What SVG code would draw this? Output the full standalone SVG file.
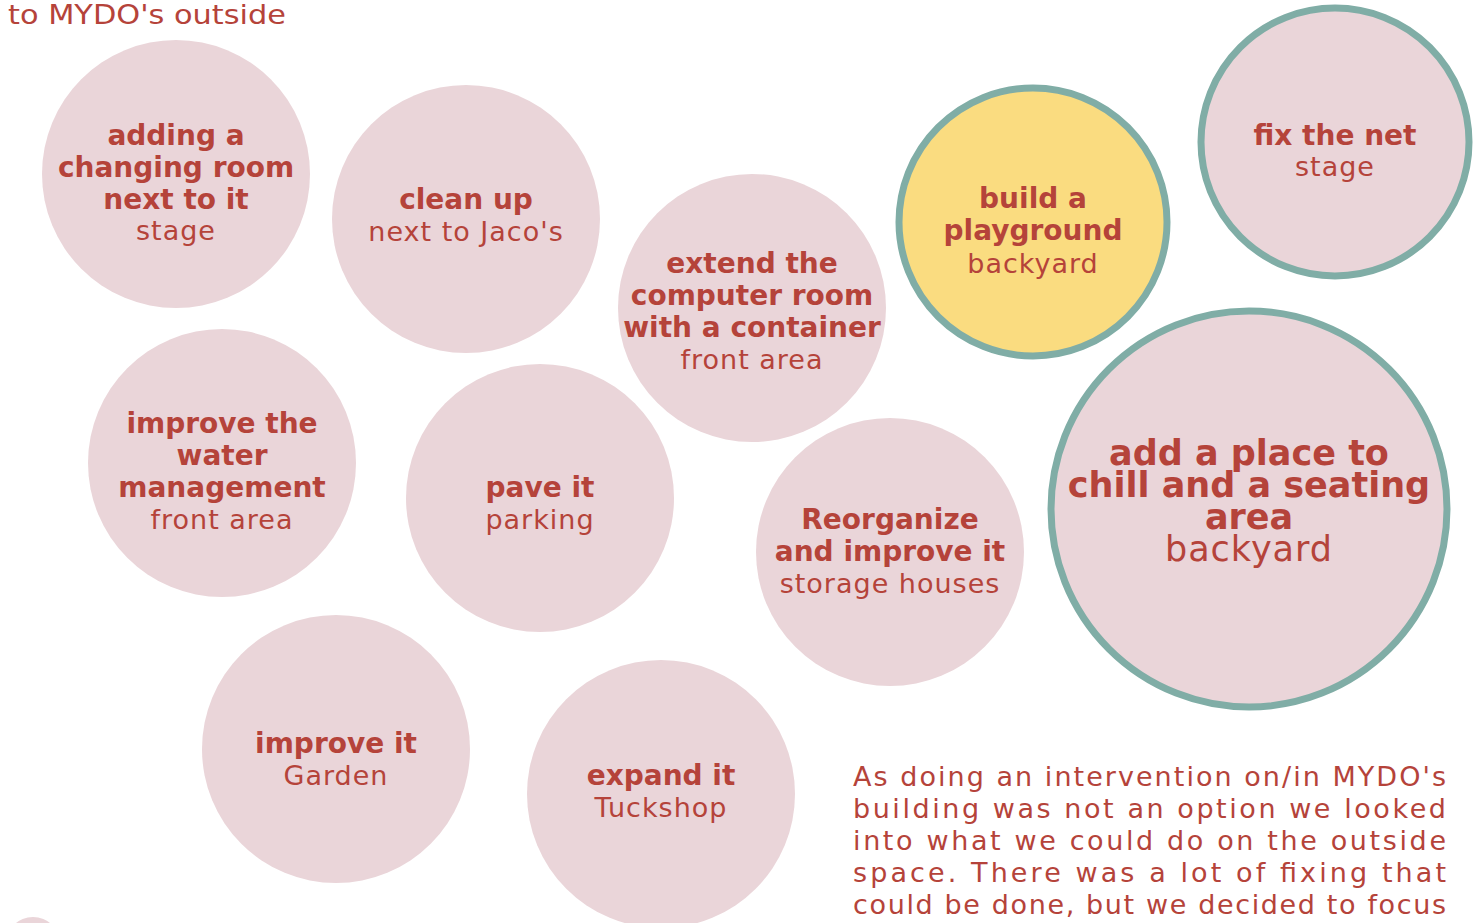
<svg xmlns="http://www.w3.org/2000/svg" width="1482" height="923" viewBox="0 0 1482 923">
<style>
.c{fill:#EAD5D9}
.r{stroke:#80ADA6;stroke-width:7}
.y{fill:#FADC80}
text{fill:#B5433A;font-family:"DejaVu Sans","Liberation Sans",sans-serif;text-anchor:middle}
.b{font-weight:bold;font-size:28px}
.n{font-size:27px;letter-spacing:1px}
.B{font-weight:bold;font-size:35px}
.N{font-size:35px;letter-spacing:1px}
.p{font-size:27px;text-anchor:start}
</style>
<rect width="1482" height="923" fill="#ffffff"/>
<text class="p" x="8" y="24" textLength="278" lengthAdjust="spacingAndGlyphs">to MYDO's outside</text>
<circle class="c" cx="33" cy="944" r="27"/>
<g id="n1"><circle class="c" cx="176" cy="174" r="134"/>
<text class="b" x="176" y="145">adding a</text><text class="b" x="176" y="177">changing room</text><text class="b" x="176" y="209">next to it</text><text class="n" x="176" y="240">stage</text></g>
<g id="n2"><circle class="c" cx="466" cy="219" r="134"/>
<text class="b" x="466" y="209">clean up</text><text class="n" x="466" y="241">next to Jaco's</text></g>
<g id="n3"><circle class="c" cx="752" cy="308" r="134"/>
<text class="b" x="752" y="273">extend the</text><text class="b" x="752" y="305">computer room</text><text class="b" x="752" y="337">with a container</text><text class="n" x="752" y="369">front area</text></g>
<g id="n4"><circle class="y r" cx="1033" cy="222" r="134"/>
<text class="b" x="1033" y="208">build a</text><text class="b" x="1033" y="240">playground</text><text class="n" x="1033" y="273">backyard</text></g>
<g id="n5"><circle class="c r" cx="1335" cy="142" r="134"/>
<text class="b" x="1335" y="145">fix the net</text><text class="n" x="1335" y="176">stage</text></g>
<g id="n6"><circle class="c r" cx="1249" cy="509" r="198"/>
<text class="B" x="1249" y="465">add a place to</text><text class="B" x="1249" y="497">chill and a seating</text><text class="B" x="1249" y="529">area</text><text class="N" x="1249" y="561">backyard</text></g>
<g id="n7"><circle class="c" cx="222" cy="463" r="134"/>
<text class="b" x="222" y="433">improve the</text><text class="b" x="222" y="465">water</text><text class="b" x="222" y="497">management</text><text class="n" x="222" y="529">front area</text></g>
<g id="n8"><circle class="c" cx="540" cy="498" r="134"/>
<text class="b" x="540" y="497">pave it</text><text class="n" x="540" y="529">parking</text></g>
<g id="n9"><circle class="c" cx="890" cy="552" r="134"/>
<text class="b" x="890" y="529">Reorganize</text><text class="b" x="890" y="561">and improve it</text><text class="n" x="890" y="593">storage houses</text></g>
<g id="n10"><circle class="c" cx="336" cy="749" r="134"/>
<text class="b" x="336" y="753">improve it</text><text class="n" x="336" y="785">Garden</text></g>
<g id="n11"><circle class="c" cx="661" cy="794" r="134"/>
<text class="b" x="661" y="785">expand it</text><text class="n" x="661" y="817">Tuckshop</text></g>
<g id="connectors"></g>
<g id="para">
<text class="p" x="853" y="786" textLength="593" lengthAdjust="spacing">As doing an intervention on/in MYDO's</text>
<text class="p" x="853" y="818" textLength="593" lengthAdjust="spacing">building was not an option we looked</text>
<text class="p" x="853" y="850" textLength="593" lengthAdjust="spacing">into what we could do on the outside</text>
<text class="p" x="853" y="882" textLength="593" lengthAdjust="spacing">space. There was a lot of fixing that</text>
<text class="p" x="853" y="914" textLength="593" lengthAdjust="spacing">could be done, but we decided to focus</text>
</g>
</svg>
